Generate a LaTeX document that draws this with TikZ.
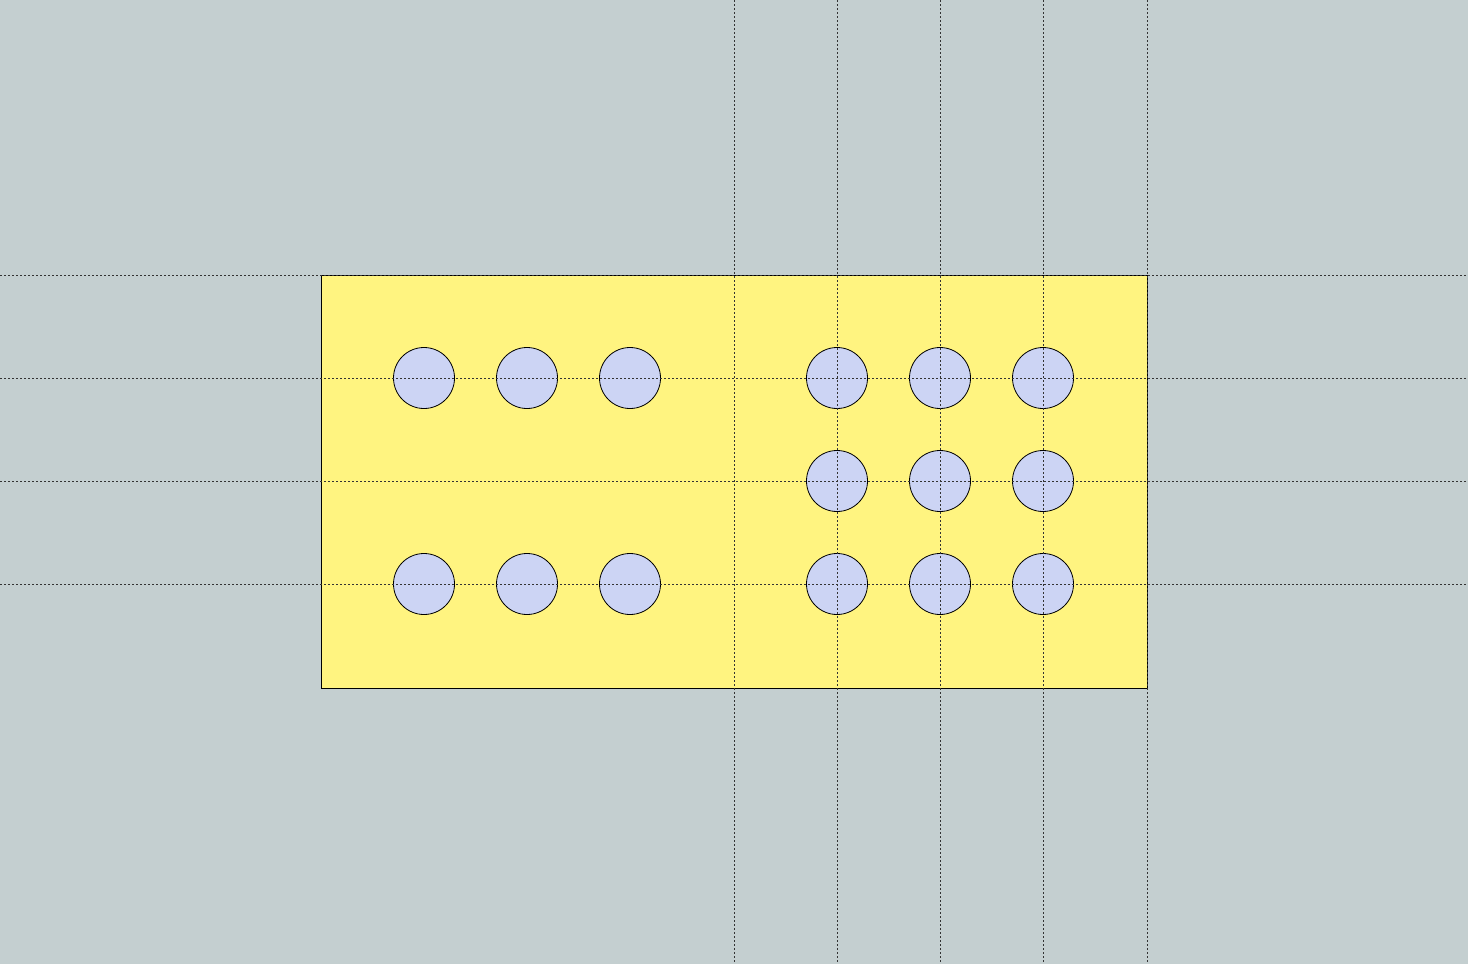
\documentclass[tikz,border=0pt]{standalone}
\definecolor{bg}{RGB}{196,207,208}
\definecolor{plate}{RGB}{255,244,128}
\definecolor{hole}{RGB}{204,212,244}
\begin{document}
\begin{tikzpicture}[x=1pt,y=-1pt,
  holenode/.style={circle,draw=black,fill=hole,line width=0.8pt,minimum size=61pt,inner sep=0pt},
  guide/.style={line width=0.9pt,dash pattern=on 2pt off 2pt,draw=black!80}]
\fill[bg] (0,0) rectangle (1468,964);
\useasboundingbox (0,0) rectangle (1468,964);
\node[draw=black,fill=plate,line width=0.8pt,minimum width=826pt,minimum height=413pt,inner sep=0pt,anchor=north west] (plate) at (321,275) {};
\foreach \i/\x in {1/424,2/527,3/630}{
  \node[holenode] (a\i) at (\x,378) {};
  \node[holenode] (c\i) at (\x,584) {};
}
\foreach \i/\x in {4/837,5/940,6/1043}{
  \node[holenode] (a\i) at (\x,378) {};
  \node[holenode] (b\i) at (\x,481) {};
  \node[holenode] (c\i) at (\x,584) {};
}
\foreach \x in {734,837,940,1043,1147}{
  \coordinate (vt\x) at (\x,0);
  \coordinate (vb\x) at (\x,964);
  \draw[guide] (vt\x) -- (vb\x);
}
\foreach \y in {275,378,481,584}{
  \coordinate (hl\y) at (0,\y);
  \coordinate (hr\y) at (1468,\y);
  \draw[guide] (hl\y) -- (hr\y);
}
\end{tikzpicture}
\end{document}
